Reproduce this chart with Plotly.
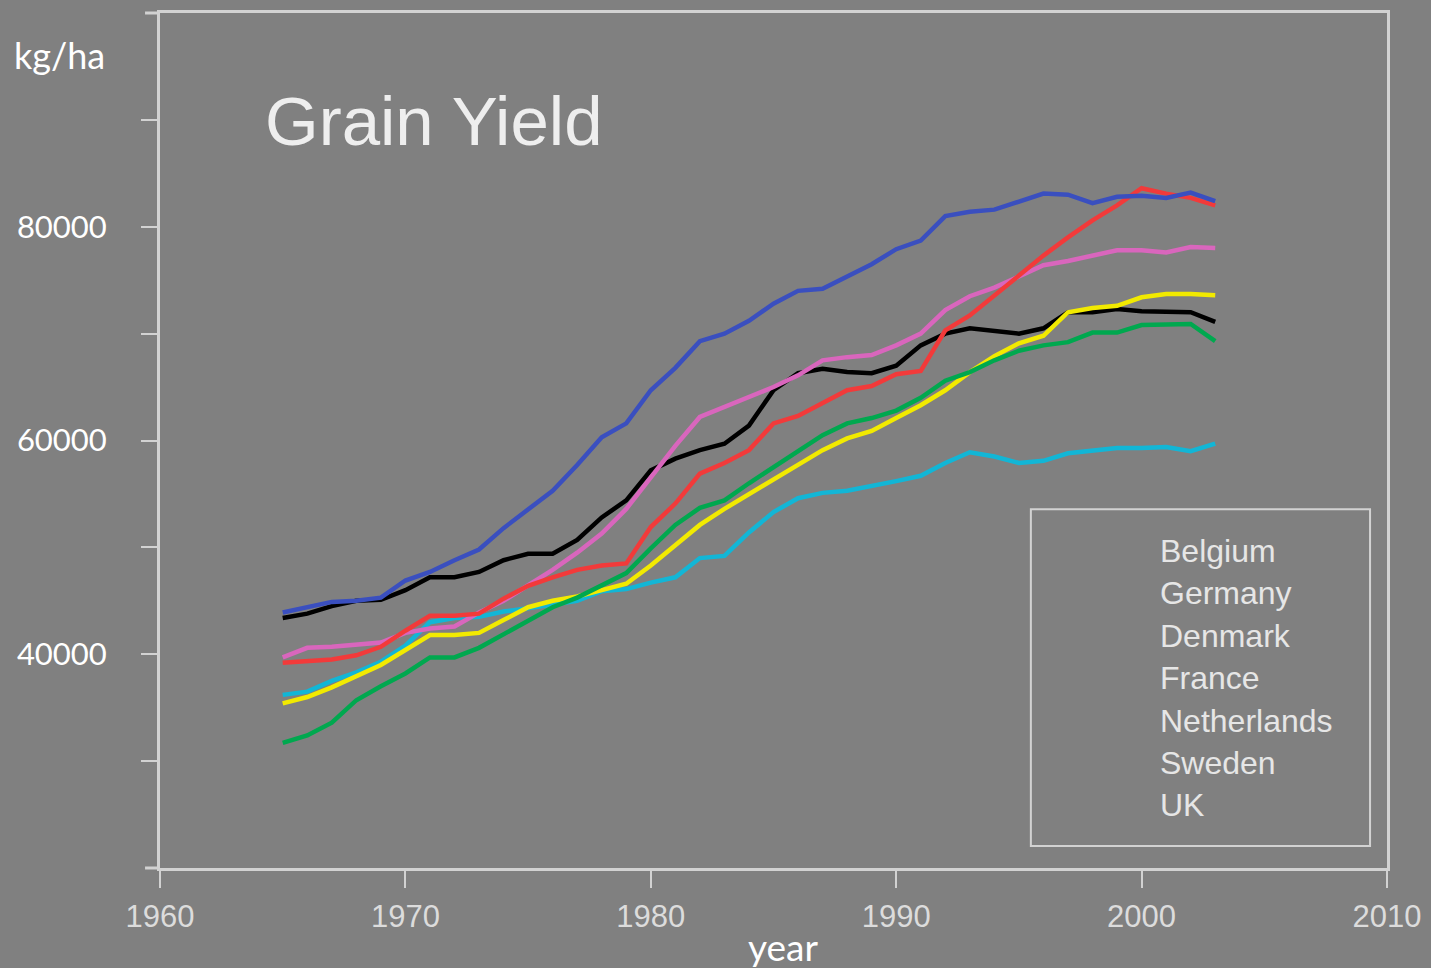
import plotly.graph_objects as go

years = list(range(1965, 2004))

netherlands = [43900, 44400, 44900, 45000, 45300, 46900, 47700, 48800, 49800, 51800,
               53500, 55300, 57700, 60300, 61600, 64700, 66800, 69300, 70000, 71200,
               72800, 74000, 74200, 75300, 76500, 77900, 78700, 81000, 81400, 81600,
               82400, 83100, 83000, 82200, 82800, 82900, 82700, 83200, 82400]
germany = [43400, 43800, 44500, 45000, 45100, 46000, 47200, 47200, 47700, 48800,
           49400, 49400, 50700, 52800, 54400, 57200, 58300, 59100, 59700, 61400,
           64700, 66300, 66700, 66400, 66300, 67000, 68900, 70000, 70500, 70300,
           70000, 70500, 72000, 72000, 72300, 72100, 72000, 72000, 71100]
denmark = [39700, 40600, 40700, 40900, 41100, 42000, 42400, 42600, 43900, 45000,
           46400, 47900, 49500, 51300, 53600, 56500, 59500, 62200, 63100, 64000,
           65000, 66100, 67500, 67800, 68000, 68900, 70000, 72200, 73500, 74300,
           75400, 76400, 76800, 77300, 77800, 77800, 77600, 78100, 78000]
belgium = [39200, 39300, 39500, 39900, 40700, 42200, 43600, 43600, 43800, 45200,
           46400, 47200, 47900, 48300, 48500, 51900, 54100, 56900, 57900, 59100,
           61600, 62300, 63500, 64700, 65100, 66200, 66500, 70300, 71700, 73600,
           75400, 77300, 79000, 80600, 82000, 83600, 83100, 82700, 82000]
sweden = [36200, 36500, 37500, 38300, 39300, 40800, 43000, 43400, 43500, 44000,
          44300, 44700, 45000, 45900, 46100, 46700, 47200, 49000, 49200, 51400,
          53300, 54600, 55100, 55300, 55700, 56200, 56700, 57900, 58900, 58500,
          57900, 58100, 58800, 59100, 59300, 59300, 59400, 59000, 59700]
uk = [35400, 36000, 36900, 37900, 39000, 40400, 41800, 41800, 42000, 43200,
      44400, 45000, 45400, 46000, 46600, 48300, 50200, 52100, 53600, 55000,
      56400, 57700, 59100, 60200, 60900, 62100, 63300, 64700, 66400, 67900,
      69100, 69800, 72000, 72400, 72600, 73400, 73700, 73700, 73600]
france = [31700, 32400, 33600, 35700, 37000, 38200, 39700, 39700, 40600, 41900,
          43200, 44400, 45300, 46400, 47600, 49900, 52100, 53700, 54400, 56000,
          57500, 59100, 60500, 61600, 62100, 62800, 64000, 65600, 66400, 67500,
          68400, 68900, 69200, 70100, 70100, 70800, 70900, 70900, 69300]

legend_names = ["Belgium", "Germany", "Denmark", "France", "Netherlands", "Sweden", "UK"]
x_tick_vals = [1960, 1970, 1980, 1990, 2000, 2010]
y_tick_vals = [30000, 40000, 50000, 60000, 70000, 80000, 90000]
y_tick_text = ["", "40000", "", "60000", "", "80000", ""]

series = [
    ("Germany", germany, "#000000"),
    ("Sweden", sweden, "#12b6d6"),
    ("UK", uk, "#f2ea00"),
    ("France", france, "#00a84f"),
    ("Denmark", denmark, "#d966bd"),
    ("Belgium", belgium, "#f23a3a"),
    ("Netherlands", netherlands, "#3a4fbf"),
]

BG = "#808080"
AXC = "#d2d2d2"

fig = go.Figure()
for name, vals, col in series:
    fig.add_trace(go.Scatter(x=years, y=vals, name=name, mode="lines",
                             line=dict(color=col, width=4.5), showlegend=False))

fig.update_layout(
    width=1431, height=968, autosize=False,
    margin=dict(l=160, r=41, t=10, b=100),
    paper_bgcolor=BG, plot_bgcolor=BG,
    showlegend=False,
)
fig.update_xaxes(range=[1960, 2010], tickvals=x_tick_vals, showgrid=False, zeroline=False,
                 showline=True, mirror=True, linecolor=AXC, linewidth=3,
                 ticks="outside", ticklen=17, tickwidth=2, tickcolor=AXC,
                 tickfont=dict(family="Liberation Sans, Arial", size=31, color="#dcdcdc"),
                 ticklabelstandoff=2)
fig.update_yaxes(range=[20000, 100000], tickvals=y_tick_vals, ticktext=y_tick_text,
                 showgrid=False, zeroline=False,
                 showline=True, mirror=True, linecolor=AXC, linewidth=3,
                 ticks="outside", ticklen=16, tickwidth=2, tickcolor=AXC,
                 tickfont=dict(family="Lato, Open Sans", size=31, color="#ffffff"),
                 ticklabelstandoff=28)

# overshoot of frame lines on the left
for yv in (0, 1):
    fig.add_shape(type="line", xref="paper", yref="paper", x0=-15/1230, x1=0, y0=yv, y1=yv,
                  line=dict(color=AXC, width=3))

# legend box (text only)
fig.add_shape(type="rect", xref="paper", yref="paper",
              x0=(1033-160)/1230, x1=(1373-160)/1230, y0=(868-846)/858, y1=(868-508)/858,
              line=dict(color=AXC, width=2))
for i, nm in enumerate(legend_names):
    fig.add_annotation(text=nm, xref="paper", yref="paper",
                       x=(1160-160)/1230, y=(868-550-42.5*i)/858,
                       xanchor="left", yanchor="middle", showarrow=False,
                       font=dict(family="Liberation Sans, Arial", size=32, color="#e6e6e6"))

fig.add_annotation(text="Grain Yield", xref="paper", yref="paper",
                   x=(263-160)/1230, y=(868-119)/858, xanchor="left", yanchor="middle",
                   showarrow=False,
                   font=dict(family="Liberation Sans, Arial", size=69, color="#eeeeee"))
fig.add_annotation(text="kg/ha", xref="paper", yref="paper",
                   x=(12-160)/1230, y=(868-52)/858, xanchor="left", yanchor="middle",
                   showarrow=False, font=dict(family="Lato, Open Sans", size=36, color="#ffffff"))
fig.add_annotation(text="year", xref="paper", yref="paper",
                   x=(785-160)/1230, y=(868-947)/858, xanchor="center", yanchor="middle",
                   showarrow=False, font=dict(family="Lato, Open Sans", size=37, color="#ffffff"))

fig.write_html("out.html", config={"displayModeBar": False})

# remove the default page margin so the figure sits at the window's top-left corner
with open("out.html", "r", encoding="utf-8") as f:
    html = f.read()
html = html.replace("<head>", "<head><style>html,body{margin:0;padding:0;overflow:hidden;background:#808080;}</style>", 1)
with open("out.html", "w", encoding="utf-8") as f:
    f.write(html)
